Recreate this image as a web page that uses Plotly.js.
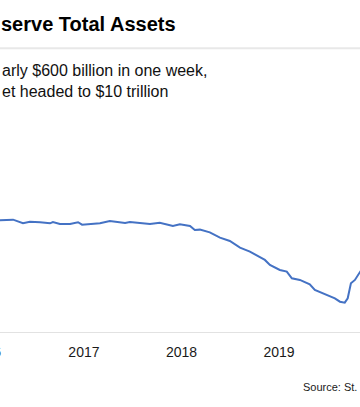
<!DOCTYPE html>
<html>
<head>
<meta charset="utf-8">
<script src="https://cdn.plot.ly/plotly-3.0.1.min.js"></script>
<style>html,body{margin:0;padding:0;background:#fff;}#chart{width:360px;height:407px;}</style>
</head>
<body>
<div id="chart"></div>
<script>
// Weekly-ish readings of total assets (trillions of USD)
var dates = ['2016-01-06','2016-02-22','2016-04-11','2016-05-18','2016-06-13','2016-07-21','2016-08-27','2016-09-07','2016-10-03','2016-11-10','2016-12-10','2016-12-25','2017-01-24','2017-03-02','2017-04-08','2017-05-16','2017-06-04','2017-06-22','2017-07-18','2017-09-05','2017-10-12','2017-11-19','2017-11-30','2017-12-26','2018-02-02','2018-02-20','2018-03-11','2018-04-17','2018-05-25','2018-07-01','2018-08-08','2018-09-14','2018-10-21','2018-11-09','2018-11-28','2019-01-04','2019-01-30','2019-02-18','2019-03-20','2019-04-26','2019-05-15','2019-06-22','2019-07-29','2019-08-17','2019-09-04','2019-09-15','2019-09-27','2019-10-12','2019-10-23','2019-10-31','2019-11-13'];
var assets = [4.450,4.453,4.461,4.430,4.444,4.439,4.430,4.441,4.424,4.424,4.439,4.418,4.424,4.430,4.450,4.439,4.433,4.441,4.435,4.424,4.435,4.418,4.407,4.422,4.407,4.373,4.376,4.353,4.307,4.279,4.222,4.188,4.145,4.117,4.074,4.031,4.017,3.960,3.946,3.909,3.860,3.823,3.789,3.760,3.752,3.789,3.918,3.946,3.988,4.017,4.060];
var tickVals = ['2017-01-01','2018-01-01','2019-01-01','2020-01-01'];
var tickText = ['2017','2018','2019','2020'];
var titleText = 'serve Total Assets';
var subLine1 = 'arly $600 billion in one week,';
var subLine2 = 'et headed to $10 trillion';
var sourceText = 'Source: St.';
var cutTick = '2016';

var FN = 'Arial, "Liberation Sans", sans-serif';

var trace = {
  x: dates, y: assets, type: 'scatter', mode: 'lines',
  line: {color: '#4472c4', width: 2},
  hoverinfo: 'skip'
};

var layout = {
  width: 360, height: 407,
  margin: {l: 0, r: 0, t: 120, b: 75, pad: 0},
  paper_bgcolor: '#ffffff', plot_bgcolor: '#ffffff',
  showlegend: false,
  xaxis: {
    type: 'date', range: ['2016-02-22', '2019-10-31'],
    tickmode: 'array', tickvals: tickVals, ticktext: tickText,
    showgrid: false, zeroline: false,
    showline: true, linecolor: '#e2e2e2', linewidth: 1,
    ticks: '', ticklabelstandoff: 7,
    tickfont: {family: FN, size: 14, color: '#1a1a1a'}
  },
  yaxis: {range: [3.501, 5.313], visible: false, showgrid: false, zeroline: false},
  shapes: [{type: 'line', xref: 'paper', yref: 'paper', x0: 0, x1: 1, y0: 1.338, y1: 1.338,
            line: {color: '#e8e8e8', width: 2}}],
  annotations: [
    {xref: 'paper', yref: 'paper', x: -0.004, y: 1.455, xanchor: 'left', yanchor: 'middle',
     text: '<b>' + titleText + '</b>', showarrow: false,
     font: {family: FN, size: 20, color: '#000000'}},
    {xref: 'paper', yref: 'paper', x: 0, y: 1.2325, xanchor: 'left', yanchor: 'middle',
     text: subLine1, showarrow: false, font: {family: FN, size: 16, color: '#111111'}},
    {xref: 'paper', yref: 'paper', x: 0, y: 1.1344, xanchor: 'left', yanchor: 'middle',
     text: subLine2, showarrow: false, font: {family: FN, size: 16, color: '#111111'}},
    {xref: 'paper', yref: 'paper', x: -0.0389, y: -0.094, xanchor: 'center', yanchor: 'middle',
     text: cutTick, showarrow: false, font: {family: FN, size: 14, color: '#1a1a1a'}},
    {xref: 'paper', yref: 'paper', x: 0.998, y: -0.259, xanchor: 'right', yanchor: 'middle',
     text: sourceText, showarrow: false, font: {family: FN, size: 11, color: '#1a1a1a'}}
  ]
};

Plotly.newPlot('chart', [trace], layout, {displayModeBar: false, staticPlot: true});
</script>
</body>
</html>
